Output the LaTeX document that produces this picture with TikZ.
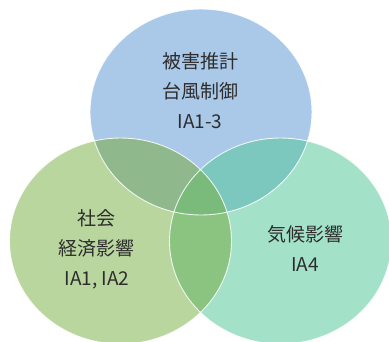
\documentclass[tikz,border=0pt]{standalone}
\usepackage{fontspec}
\setmainfont{Noto Sans CJK JP}
\definecolor{cblue}{RGB}{170,200,232}
\definecolor{cleft}{RGB}{185,214,158}
\definecolor{cright}{RGB}{163,226,200}
\definecolor{ctl}{RGB}{143,184,140}
\definecolor{ctr}{RGB}{124,200,190}
\definecolor{clr}{RGB}{138,196,128}
\definecolor{call}{RGB}{122,186,122}
\definecolor{ctext}{RGB}{45,45,45}
\tikzset{
  lbl/.style={align=center, text=ctext, font=\fontsize{19}{30}\selectfont, inner sep=0pt},
  rim/.style={draw=white, line width=0.9pt, opacity=0.85}
}
\begin{document}
\begin{tikzpicture}[x=1pt,y=-1pt]
\useasboundingbox (0,0) rectangle (389,341);
\def\topE{(201,112) ellipse [x radius=111pt, y radius=103pt]}
\def\leftE{(120.5,241) ellipse [x radius=111pt, y radius=103pt]}
\def\rightE{(280.5,241) ellipse [x radius=111pt, y radius=103pt]}
\fill[cblue] \topE;
\fill[cleft] \leftE;
\fill[cright] \rightE;
\begin{scope}
  \clip \topE;
  \fill[ctl] \leftE;
  \fill[ctr] \rightE;
\end{scope}
\begin{scope}
  \clip \leftE;
  \fill[clr] \rightE;
\end{scope}
\begin{scope}
  \clip \topE;
  \clip \leftE;
  \fill[call] \rightE;
\end{scope}
\draw[rim] \topE;
\draw[rim] \leftE;
\draw[rim] \rightE;
\node[lbl] (top) at (200,91) {被害推計\\台風制御\\IA1-3};
\node[lbl] (left) at (97,249) {社会\\経済影響\\IA1, IA2};
\node[lbl] (right) at (305,248) {気候影響\\IA4};
\end{tikzpicture}
\end{document}
